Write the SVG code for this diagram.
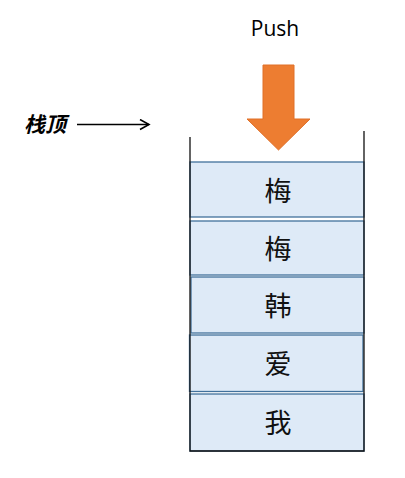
<svg xmlns="http://www.w3.org/2000/svg" width="405" height="478" viewBox="0 0 405 478">
<defs>
<style>
.box{fill:#DEEAF7;stroke:#41719C;stroke-width:1.3}
.ch{font-family:"Noto Sans CJK SC",sans-serif;font-size:27px;fill:#111;text-anchor:middle}
.wall{stroke:#111;stroke-width:1.3;fill:none}
</style>
<marker id="open" markerWidth="12" markerHeight="12" refX="10" refY="6" orient="auto" markerUnits="userSpaceOnUse">
<path d="M1,1 L10,6 L1,11" fill="none" stroke="#000" stroke-width="1.6"/>
</marker>
</defs>
<rect width="405" height="478" fill="#fff"/>
<text x="275" y="36" font-family="Open Sans, sans-serif" font-size="21" fill="#000" text-anchor="middle">Push</text>
<g id="push-arrow">
<polygon points="263,65 294,65 294,119 310,119 278.5,150 247,119 263,119" fill="#ED7D31" stroke="#E07028" stroke-width="1"/>
</g>
<g id="top-label">
<text x="24" y="132" font-family="Noto Sans CJK SC, sans-serif" font-size="21" font-style="italic" font-weight="bold" fill="#000">栈顶</text>
</g>
<g id="connectors">
<line x1="77" y1="124.5" x2="149" y2="124.5" stroke="#000" stroke-width="1.6" marker-end="url(#open)"/>
</g>
<g id="n1"><rect class="box" x="190" y="162" width="174" height="55"/><text class="ch" x="278" y="201">梅</text></g>
<g id="n2"><rect class="box" x="190" y="221" width="174" height="54"/><text class="ch" x="278" y="259">梅</text></g>
<g id="n3"><rect class="box" x="191" y="277" width="173" height="56"/><text class="ch" x="278" y="316">韩</text></g>
<g id="n4"><rect class="box" x="189.5" y="335" width="173.5" height="56.5"/><text class="ch" x="278" y="374">爱</text></g>
<g id="n5"><rect class="box" x="190" y="394" width="174" height="57"/><text class="ch" x="278" y="433">我</text></g>
<g id="stack">
<path class="wall" d="M190,137 V451 H364 V131"/>
</g>
</svg>
